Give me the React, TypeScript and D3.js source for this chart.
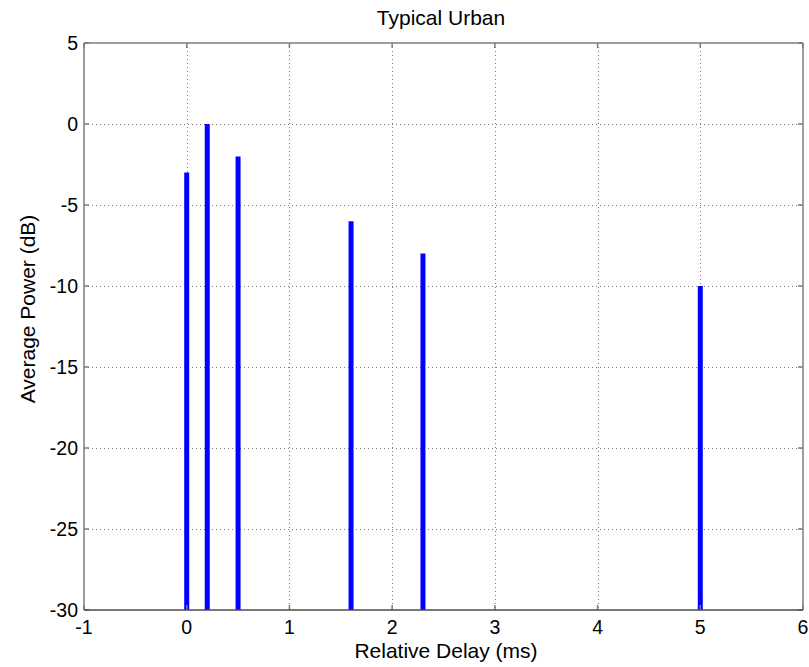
import React from "react";
import * as d3 from "d3";

const width = 809;
const height = 667;
const margin = { top: 43, right: 6, bottom: 57, left: 84 };

// delay (ms) and average power (dB) of the taps
const delays = [0, 0.2, 0.5, 1.6, 2.3, 5];
const powers = [-3, 0, -2, -6, -8, -10];
const xTicks = [-1, 0, 1, 2, 3, 4, 5, 6];
const yTicks = [5, 0, -5, -10, -15, -20, -25, -30];

const font = "'Liberation Sans', Arial, Helvetica, sans-serif";

export default function App() {
  const x = d3.scaleLinear().domain([-1, 6]).range([margin.left, width - margin.right]);
  const y = d3.scaleLinear().domain([-30, 5]).range([height - margin.bottom, margin.top]);
  const x0 = margin.left, x1 = width - margin.right;
  const y0 = height - margin.bottom, y1 = margin.top;
  const tick = 5;

  return (
    <div style={{ position: "absolute", left: 0, top: 0 }}>
      <svg width={width} height={height} style={{ display: "block", background: "#fff" }}>
        {/* grid */}
        <g stroke="#7a7a7a" strokeWidth={1} strokeDasharray="1,3">
          {xTicks.slice(1, -1).map(t => (
            <line key={"gx" + t} x1={Math.round(x(t)) + 0.5} x2={Math.round(x(t)) + 0.5} y1={y1} y2={y0} />
          ))}
          {yTicks.slice(1, -1).map(t => (
            <line key={"gy" + t} x1={x0} x2={x1} y1={Math.round(y(t)) + 0.5} y2={Math.round(y(t)) + 0.5} />
          ))}
        </g>

        {/* taps */}
        <g stroke="#0000ff" strokeWidth={5}>
          {delays.map((d, i) => (
            <line key={i} x1={x(d)} x2={x(d)} y1={y(-30)} y2={y(powers[i])} />
          ))}
        </g>

        {/* axes box and ticks */}
        <g stroke="#7c7c7c" strokeWidth={1.5} fill="none">
          <line x1={x0} x2={x1} y1={y1} y2={y1} />
          <line x1={x0} x2={x0} y1={y1} y2={y0} />
          <line x1={x1} x2={x1} y1={y1} y2={y0} />
          {xTicks.map(t => (
            <g key={"tx" + t}>
              <line x1={x(t)} x2={x(t)} y1={y0} y2={y0 - tick} />
              <line x1={x(t)} x2={x(t)} y1={y1} y2={y1 + tick} />
            </g>
          ))}
          {yTicks.map(t => (
            <g key={"ty" + t}>
              <line x1={x0} x2={x0 + tick} y1={y(t)} y2={y(t)} />
              <line x1={x1} x2={x1 - tick} y1={y(t)} y2={y(t)} />
            </g>
          ))}
        </g>
        <line x1={x0} x2={x1} y1={y0} y2={y0} stroke="#4a4a4a" strokeWidth={1.5} />

        {/* tick labels */}
        <g fontFamily={font} fontSize={19.5} fill="#000">
          {xTicks.map(t => (
            <text key={"lx" + t} x={x(t)} y={634} textAnchor="middle">{t}</text>
          ))}
          {yTicks.map(t => (
            <text key={"ly" + t} x={x0 - 6} y={y(t) + 7} textAnchor="end">{t}</text>
          ))}
        </g>

        {/* titles */}
        <text x={441} y={25} textAnchor="middle" fontFamily={font} fontSize={21}>Typical Urban</text>
        <text x={446} y={658} textAnchor="middle" fontFamily={font} fontSize={21}>Relative Delay (ms)</text>
        <text transform="translate(35, 309) rotate(-90)" textAnchor="middle" fontFamily={font} fontSize={21}>Average Power (dB)</text>
      </svg>
    </div>
  );
}
